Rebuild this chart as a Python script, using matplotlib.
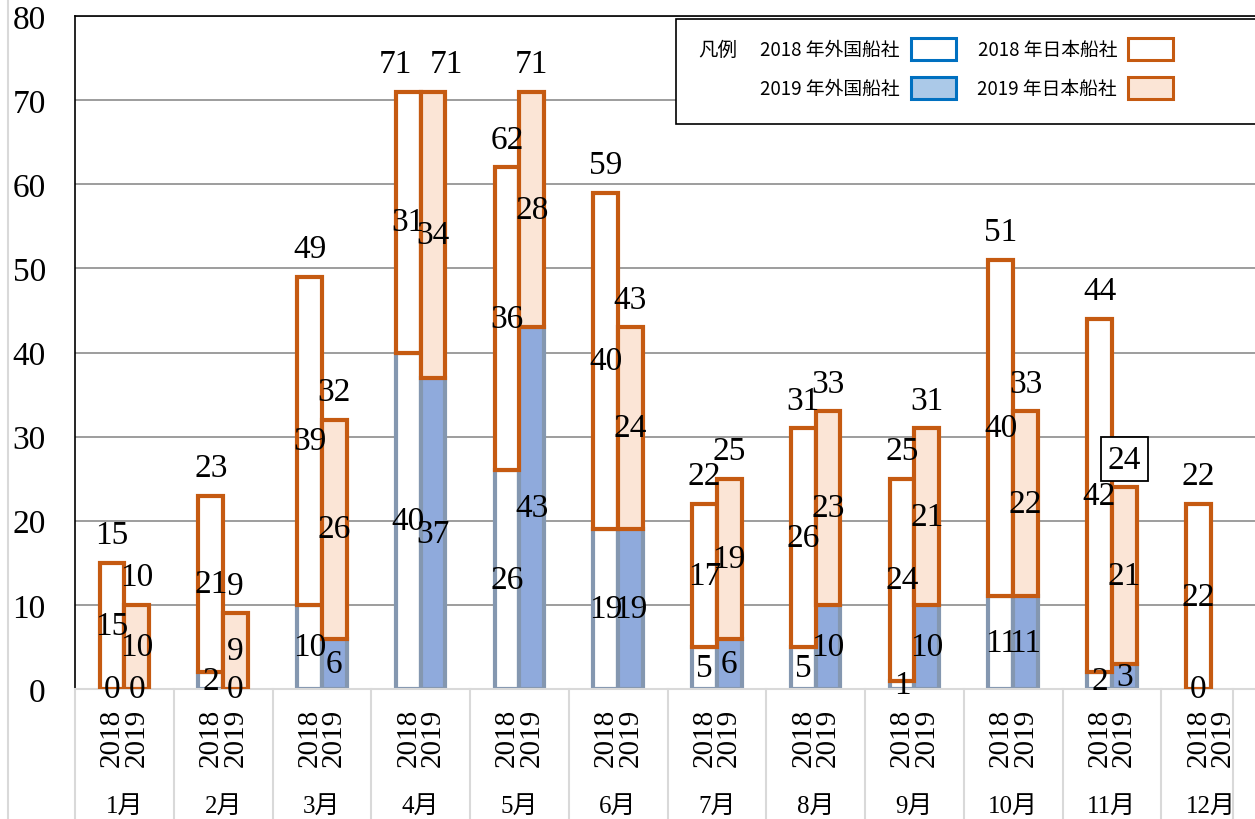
"""Monthly ship company counts, 2018 vs 2019, stacked foreign / Japanese."""

import matplotlib

matplotlib.use("Agg")
import matplotlib.pyplot as plt
import numpy as np
from matplotlib.patches import Rectangle
from matplotlib.transforms import blended_transform_factory

months = ["1月", "2月", "3月", "4月", "5月", "6月", "7月", "8月", "9月", "10月", "11月", "12月"]
years = ["2018", "2019"]
foreign_2018 = [0, 2, 10, 40, 26, 19, 5, 5, 1, 11, 2, 0]
japan_2018 = [15, 21, 39, 31, 36, 40, 17, 26, 24, 40, 42, 22]
foreign_2019 = [0, 0, 6, 37, 43, 19, 6, 10, 10, 11, 3, np.nan]
japan_2019 = [10, 9, 26, 34, 28, 24, 19, 23, 21, 22, 21, np.nan]
legend_labels = ["2018 年外国船社", "2018 年日本船社", "2019 年外国船社", "2019 年日本船社"]
boxed_total = (10, 1)  # 11月 2019 total is drawn inside a frame
total_nudge = {(3, 0): -9, (3, 1): 10}  # 4月 totals were pulled apart in the original

ORANGE = "#c55a11"
PEACH = "#fbe5d6"
SLATE = "#8497b0"
BLUE_FILL = "#8faadc"
LEG_BLUE = "#0070c0"
LEG_BLUE_FILL = "#abc9e8"
LIGHT = "#d9d9d9"
SERIF = ["Liberation Serif", "Noto Sans CJK JP"]

W, H = 1255, 820
fig = plt.figure(figsize=(W / 100, H / 100), dpi=100)
ax = fig.add_axes([75 / W, 130 / H, 1185 / W, 673 / H])

x = np.arange(len(months))
bw = 0.25
series = [
    (x - bw / 2, np.array(foreign_2018, float), np.array(japan_2018, float), "white", "white"),
    (x + bw / 2, np.array(foreign_2019, float), np.array(japan_2019, float), BLUE_FILL, PEACH),
]

for yi, (xs, fa, ja, ffill, jfill) in enumerate(series):
    ok = ~np.isnan(fa)
    ax.bar(xs[ok], fa[ok], width=bw, facecolor=ffill, edgecolor=SLATE, linewidth=3, zorder=2)
    ax.bar(xs[ok], ja[ok], bottom=fa[ok], width=bw, facecolor=jfill, edgecolor=ORANGE,
           linewidth=3, zorder=3)
    for i in np.where(ok)[0]:
        ax.text(xs[i], fa[i] / 2, f"{int(fa[i])}", ha="center", va="center",
                fontsize=24, family=SERIF, zorder=5)
        ax.text(xs[i], fa[i] + ja[i] / 2, f"{int(ja[i])}", ha="center", va="center",
                fontsize=24, family=SERIF, zorder=5)
        box = None
        if (i, yi) == boxed_total:
            box = dict(boxstyle="square,pad=0.2", facecolor="white", edgecolor="black", linewidth=1.3)
        ax.annotate(f"{int(fa[i] + ja[i])}", (xs[i], fa[i] + ja[i]),
                    xytext=(total_nudge.get((i, yi), 0), 20),
                    textcoords="offset points", ha="center", va="center",
                    fontsize=24, family=SERIF, bbox=box, zorder=5)

ax.set_xlim(-0.5, 11.5)
ax.set_ylim(0, 80)
ax.set_yticks(np.arange(0, 81, 10))
ax.set_yticklabels([str(v) for v in range(0, 81, 10)], family=SERIF, fontsize=24)
ax.tick_params(axis="y", length=0, pad=21)
ax.set_xticks([])
ax.yaxis.grid(True, color="#8c8c8c", linewidth=1.2, zorder=0)
ax.set_axisbelow(True)
for side in ("left", "top"):
    ax.spines[side].set_color("black")
    ax.spines[side].set_linewidth(1.2)
ax.spines["right"].set_visible(False)
ax.spines["bottom"].set_color(LIGHT)
ax.spines["bottom"].set_linewidth(1.5)

# two-level category axis below the plot
trans = blended_transform_factory(ax.transData, ax.transAxes)
for i in range(len(months)):
    for k, yr in enumerate(years):
        ax.text(i + (k - 0.5) * bw, -0.071, yr, transform=trans, rotation=90,
                ha="center", va="center", fontsize=21, family=SERIF)
    ax.text(i, -0.173, months[i], transform=trans, ha="center", va="center",
            fontsize=18, family=SERIF)
for b in list(np.arange(-0.5, 11, 1.0)) + [11.23]:
    ax.plot([b, b], [0, -0.2], transform=trans, color=LIGHT, linewidth=1.5, clip_on=False)

fig.add_artist(plt.Line2D([8 / W, 8 / W], [0, 1], color=LIGHT, linewidth=1.5))


def fx(px):
    return px / W


def fy(py):
    return 1 - py / H


# legend drawn by hand to copy the original layout
fig.add_artist(Rectangle((fx(676), fy(125)), fx(600), 105 / H, transform=fig.transFigure,
                         facecolor="white", edgecolor="black", linewidth=1.2, zorder=6))
fig.text(fx(698), fy(50), "凡例", ha="left", va="center", fontsize=14,
         family="Noto Sans CJK JP", zorder=7)
swatches = [("white", LEG_BLUE), ("white", ORANGE), (LEG_BLUE_FILL, LEG_BLUE), (PEACH, ORANGE)]
for n, (label, (fc, ec)) in enumerate(zip(legend_labels, swatches)):
    row, col = divmod(n, 2)
    cy = 50 + row * 39
    tx = 900 + col * 217
    fig.text(fx(tx), fy(cy), label, ha="right", va="center", fontsize=13.5,
             family="Noto Sans CJK JP", zorder=7)
    fig.add_artist(Rectangle((fx(tx + 11), fy(cy + 11)), fx(45), 22 / H,
                             transform=fig.transFigure, facecolor=fc, edgecolor=ec,
                             linewidth=2.2, zorder=7))

fig.savefig("out.png", dpi=100)
